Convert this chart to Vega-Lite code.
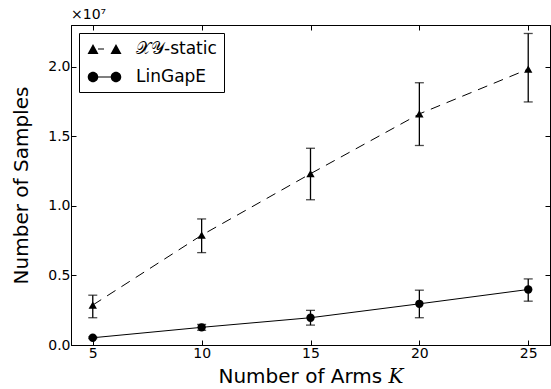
{
  "$schema": "https://vega.github.io/schema/vega-lite/v6.json",
  "width": 479,
  "height": 320,
  "autosize": "none",
  "padding": {"left": 71, "top": 25, "right": 1, "bottom": 44},
  "background": "white",
  "config": {
    "font": "DejaVu Sans",
    "view": {"stroke": "black", "strokeWidth": 1},
    "axis": {"domainColor": "black", "tickColor": "black", "labelColor": "black", "titleColor": "black", "grid": false, "labelFont": "DejaVu Sans", "titleFont": "DejaVu Sans, DejaVu Serif", "titleFontWeight": "normal", "labelFontSize": 14, "titleFontSize": 20, "tickSize": -5, "tickWidth": 1}
  },
  "title": {"text": "×10⁷", "anchor": "start", "frame": "group", "fontSize": 14, "fontWeight": "normal", "font": "DejaVu Sans", "color": "black", "offset": 3},
  "data": {"values": [
    {"K": 5, "method": "𝒳𝒴-static", "mean": 2870000, "lo": 1960000, "hi": 3580000},
    {"K": 10, "method": "𝒳𝒴-static", "mean": 7890000, "lo": 6640000, "hi": 9060000},
    {"K": 15, "method": "𝒳𝒴-static", "mean": 12310000, "lo": 10440000, "hi": 14140000},
    {"K": 20, "method": "𝒳𝒴-static", "mean": 16610000, "lo": 14340000, "hi": 18850000},
    {"K": 25, "method": "𝒳𝒴-static", "mean": 19830000, "lo": 17470000, "hi": 22390000},
    {"K": 5, "method": "LinGapE", "mean": 520000, "lo": 460000, "hi": 580000},
    {"K": 10, "method": "LinGapE", "mean": 1270000, "lo": 1060000, "hi": 1480000},
    {"K": 15, "method": "LinGapE", "mean": 1960000, "lo": 1430000, "hi": 2490000},
    {"K": 20, "method": "LinGapE", "mean": 2960000, "lo": 1960000, "hi": 3940000},
    {"K": 25, "method": "LinGapE", "mean": 3990000, "lo": 3150000, "hi": 4750000}
  ]},
  "resolve": {"axis": {"x": "independent", "y": "independent"}, "scale": {"shape": "independent"}},
  "layer": [
    {
      "transform": [{"filter": "datum.method !== 'LinGapE'"}],
      "mark": {"type": "line", "color": "black", "strokeWidth": 1, "strokeDash": [10, 7]},
      "encoding": {
        "x": {"field": "K", "type": "quantitative", "scale": {"domain": [4, 26], "nice": false, "zero": false},
              "axis": {"title": "Number of Arms 𝐾", "values": [5, 10, 15, 20, 25], "labelPadding": 6, "titlePadding": 6}},
        "y": {"field": "mean", "type": "quantitative", "scale": {"domain": [0, 23000000], "nice": false},
              "axis": {"title": "Number of Samples", "values": [0, 5000000, 10000000, 15000000, 20000000], "labelExpr": "format(datum.value / 1e7, '.1f')", "labelPadding": 6, "titlePadding": 16}}
      }
    },
    {
      "transform": [{"filter": "datum.method === 'LinGapE'"}],
      "mark": {"type": "line", "color": "black", "strokeWidth": 1},
      "encoding": {
        "x": {"field": "K", "type": "quantitative", "axis": null},
        "y": {"field": "mean", "type": "quantitative", "axis": null}
      }
    },
    {
      "mark": {"type": "rule", "color": "black", "strokeWidth": 1.3},
      "encoding": {
        "x": {"field": "K", "type": "quantitative", "axis": {"orient": "top", "labels": false, "title": null, "values": [5, 10, 15, 20, 25]}},
        "y": {"field": "lo", "type": "quantitative", "axis": {"orient": "right", "labels": false, "title": null, "values": [0, 5000000, 10000000, 15000000, 20000000]}},
        "y2": {"field": "hi"}
      }
    },
    {
      "mark": {"type": "tick", "orient": "horizontal", "color": "black", "thickness": 1.3, "size": 9},
      "encoding": {
        "x": {"field": "K", "type": "quantitative", "axis": null},
        "y": {"field": "lo", "type": "quantitative", "axis": null}
      }
    },
    {
      "mark": {"type": "tick", "orient": "horizontal", "color": "black", "thickness": 1.3, "size": 9},
      "encoding": {
        "x": {"field": "K", "type": "quantitative", "axis": null},
        "y": {"field": "hi", "type": "quantitative", "axis": null}
      }
    },
    {
      "mark": {"type": "point", "filled": true, "color": "black", "opacity": 1, "size": 70},
      "encoding": {
        "x": {"field": "K", "type": "quantitative", "axis": null},
        "y": {"field": "mean", "type": "quantitative", "axis": null},
        "shape": {"field": "method", "type": "nominal", "scale": {"domain": ["𝒳𝒴-static", "LinGapE"], "range": ["triangle-up", "circle"]}, "legend": null}
      }
    },
    {
      "transform": [{"filter": "false"}],
      "mark": {"type": "point", "filled": true, "color": "black", "opacity": 1, "size": 70},
      "encoding": {
        "x": {"field": "K", "type": "quantitative", "axis": null},
        "y": {"field": "mean", "type": "quantitative", "axis": null},
        "shape": {"field": "method", "type": "nominal",
          "scale": {"domain": ["𝒳𝒴-static", "LinGapE"], "range": [
            "M-0.88,0.59L-0.235,-0.59L0.41,0.59Z M0.35,-0.06H1.06V0.06H0.35Z M1.82,0.59L2.47,-0.59L3.12,0.59Z",
            "M-0.855,0A0.62,0.62 0 1,1 0.385,0A0.62,0.62 0 1,1 -0.855,0Z M0.3,-0.06H1.9V0.06H0.3Z M1.85,0A0.62,0.62 0 1,1 3.09,0A0.62,0.62 0 1,1 1.85,0Z"
          ]},
          "legend": {"title": null, "orient": "top-left", "offset": 8, "padding": 6.5, "strokeColor": "black", "fillColor": "white", "labelFontSize": 17, "labelFont": "DejaVu Sans, DejaVu Serif", "labelColor": "black", "symbolSize": 289, "labelOffset": 31.5, "rowPadding": 10, "symbolFillColor": "black", "symbolOpacity": 1}}
      }
    }
  ]
}
